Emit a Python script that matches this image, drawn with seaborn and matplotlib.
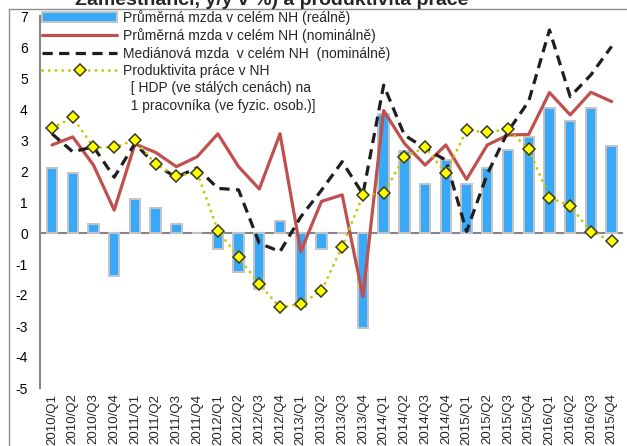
import matplotlib
matplotlib.use("Agg")
import matplotlib.pyplot as plt
from matplotlib.lines import Line2D
from matplotlib.patches import Rectangle
import numpy as np
import pandas as pd
import seaborn as sns

# ---------------- data ----------------
quarters = ["2010/Q1", "2010/Q2", "2010/Q3", "2010/Q4",
            "2011/Q1", "2011/Q2", "2011/Q3", "2011/Q4",
            "2012/Q1", "2012/Q2", "2012/Q3", "2012/Q4",
            "2013/Q1", "2013/Q2", "2013/Q3", "2013/Q4",
            "2014/Q1", "2014/Q2", "2014/Q3", "2014/Q4",
            "2015/Q1", "2015/Q2", "2015/Q3", "2015/Q4",
            "2016/Q1", "2016/Q2", "2016/Q3", "2015/Q4"]

mzda_realne = [2.1, 1.93, 0.28, -1.39, 1.1, 0.82, 0.28, 0.0,
               -0.52, -1.27, -1.8, 0.4, -2.4, -0.52, 0.0, -3.07,
               3.85, 2.63, 1.58, 2.35, 1.58, 2.11, 2.69, 3.1,
               4.02, 3.62, 4.02, 2.8]

mzda_nominalne = [2.84, 3.1, 2.19, 0.74, 2.87, 2.6, 2.14, 2.46,
                  3.2, 2.14, 1.42, 3.2, -0.6, 1.02, 1.23, -2.05,
                  3.95, 2.89, 2.19, 2.84, 1.73, 2.84, 3.16, 3.18,
                  4.53, 3.81, 4.54, 4.24]

median_nominalne = [3.2, 2.62, 2.78, 1.8, 2.89, 2.19, 1.8, 2.1,
                    1.44, 1.39, -0.33, -0.6, 0.52, 1.38, 2.3, 1.25,
                    4.77, 3.16, 2.73, 2.35, 0.05, 1.9, 3.28, 4.25,
                    6.55, 4.4, 5.1, 6.02]

produktivita = [3.38, 3.73, 2.76, 2.76, 3.0, 2.22, 1.84, 1.95,
                0.08, -0.79, -1.65, -2.4, -2.29, -1.86, -0.44, 1.22,
                1.29, 2.45, 2.76, 1.93, 3.31, 3.25, 3.35, 2.7,
                1.14, 0.88, 0.04, -0.25]

labels = ["Průměrná mzda v celém NH (reálně)",
          "Průměrná mzda v celém NH (nominálně)",
          "Mediánová mzda  v celém NH  (nominálně)",
          "Produktivita práce v NH"]
extra_labels = ["  [ HDP (ve stálých cenách) na",
                "  1 pracovníka (ve fyzic. osob.)]"]
title = "Zaměstnanci, y/y v %) a produktivita práce"

df = pd.DataFrame({"pos": np.arange(len(quarters)),
                   "real": mzda_realne,
                   "nom": mzda_nominalne,
                   "med": median_nominalne,
                   "prod": produktivita})

# ---------------- style ----------------
sns.set_style("white")
plt.rcParams["font.family"] = ["Liberation Sans", "DejaVu Sans"]
plt.rcParams["axes.unicode_minus"] = False

W, H = 627, 446
fig = plt.figure(figsize=(W / 100, H / 100), dpi=100)
ax = fig.add_axes([39.6 / W, 58 / H, (622 - 39.6) / W, 372 / H])

blue = "#38A9F8"
red = "#C0504D"
gray = "#868686"

sns.barplot(data=df, x="pos", y="real", native_scale=True, width=0.5,
            color=blue, edgecolor="#C4C4C4", linewidth=1.4, saturation=1,
            errorbar=None, label=labels[0], ax=ax, zorder=2)
sns.lineplot(data=df, x="pos", y="nom", color=red, linewidth=2.3,
             label=labels[1], ax=ax, zorder=3)
sns.lineplot(data=df, x="pos", y="med", color="#1E1E1E", linewidth=2.3,
             linestyle=(0, (3.2, 2.0)), label=labels[2], ax=ax, zorder=4)
sns.lineplot(data=df, x="pos", y="prod", color="#C8C800", linewidth=2.0,
             linestyle=(0, (0.1, 2.3)), dash_capstyle="round",
             marker="D", markersize=6.3, markerfacecolor="#FFFF00",
             markeredgecolor="#3A3A22", markeredgewidth=1.1,
             label=labels[3], ax=ax, zorder=5)

# ---------------- axes ----------------
ax.set_ylim(-5, 7)
ax.set_yticks(range(-5, 8))
ax.set_xlim(-0.6, 27.5)
ax.set_xlabel("")
ax.set_ylabel("")

for s in ["top", "right"]:
    ax.spines[s].set_visible(False)
ax.spines["left"].set_color(gray)
ax.spines["left"].set_linewidth(1.5)
ax.spines["bottom"].set_position(("data", 0))
ax.spines["bottom"].set_color(gray)
ax.spines["bottom"].set_linewidth(1.5)
ax.spines["bottom"].set_zorder(1)

ax.set_xticks(np.arange(3.5, 28, 4))
ax.set_xticklabels([])
ax.tick_params(axis="x", direction="inout", length=7, width=1.3, color=gray)
ax.tick_params(axis="y", direction="out", length=4.5, width=1.3, color=gray,
               labelsize=10, pad=4, labelcolor="black")

sec = ax.secondary_xaxis(0)
sec.set_xticks(np.arange(len(quarters)))
sec.set_xticklabels(quarters, rotation=90, fontsize=9.5)
sec.tick_params(length=0, pad=4)
for s in sec.spines.values():
    s.set_visible(False)

# ---------------- legend ----------------
handles, labs = ax.get_legend_handles_labels()
order = [labs.index(l) for l in labels]
handles = [handles[i] for i in order]
handles += [Line2D([], [], color="none"), Line2D([], [], color="none")]
ax.legend(handles, labels + extra_labels, loc="upper left",
          bbox_to_anchor=(42 / W, 1 - 10 / H), bbox_transform=fig.transFigure,
          frameon=False, fontsize=10, handlelength=5.4, handletextpad=0.45,
          labelspacing=0.24, borderpad=0, borderaxespad=0)

# ---------------- decorations ----------------
fig.text(75 / W, 1 - 5 / H, title, fontsize=14, fontweight="bold",
         ha="left", va="baseline")
fig.add_artist(Rectangle((9 / W, -0.05), 1.1, 1 - 9 / H + 0.05,
                         transform=fig.transFigure, fill=False,
                         edgecolor="#8C8C8C", linewidth=1.0))

fig.savefig("out.png", dpi=100)
